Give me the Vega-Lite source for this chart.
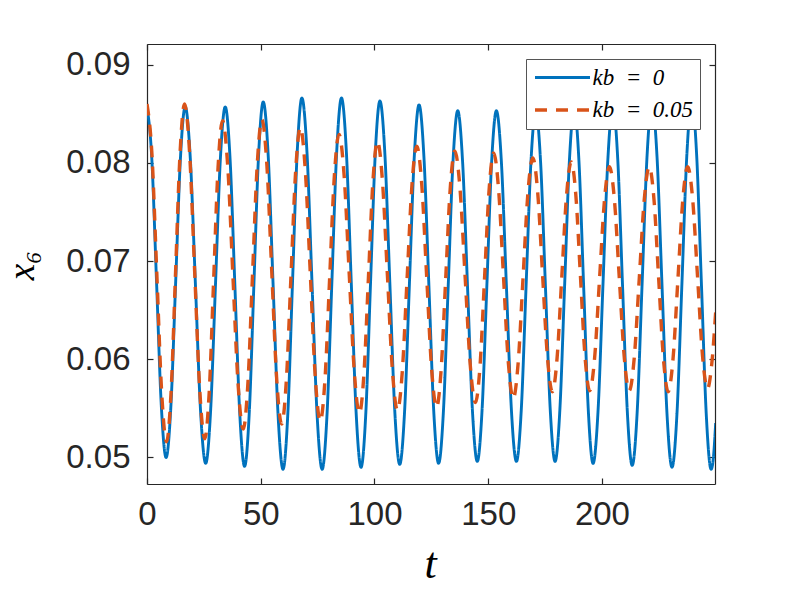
{
"$schema": "https://vega.github.io/schema/vega-lite/v6.json",
"width": 568, "height": 440,
"autosize": {"type": "none"},
"padding": {"left": 147, "top": 44, "right": 74, "bottom": 108},
"background": "white",
"data": {"values": [
{"t":0,"s":"kb = 0","v":0.0857},{"t":2.1,"s":"kb = 0","v":0.08047},{"t":4.2,"s":"kb = 0","v":0.06785},{"t":6.3,"s":"kb = 0","v":0.05523},{"t":8.4,"s":"kb = 0","v":0.05},{"t":10.5,"s":"kb = 0","v":0.05523},{"t":12.6,"s":"kb = 0","v":0.06785},{"t":14.7,"s":"kb = 0","v":0.08047},{"t":16.8,"s":"kb = 0","v":0.0857},{"t":19.05,"s":"kb = 0","v":0.08039},{"t":21.3,"s":"kb = 0","v":0.06755},{"t":23.55,"s":"kb = 0","v":0.05471},{"t":25.8,"s":"kb = 0","v":0.0494},{"t":27.95,"s":"kb = 0","v":0.05471},{"t":30.1,"s":"kb = 0","v":0.06755},{"t":32.25,"s":"kb = 0","v":0.08039},{"t":34.4,"s":"kb = 0","v":0.0857},{"t":36.53,"s":"kb = 0","v":0.08034},{"t":38.65,"s":"kb = 0","v":0.0674},{"t":40.78,"s":"kb = 0","v":0.05446},{"t":42.9,"s":"kb = 0","v":0.0491},{"t":44.95,"s":"kb = 0","v":0.05453},{"t":47.0,"s":"kb = 0","v":0.06765},{"t":49.05,"s":"kb = 0","v":0.08077},{"t":51.1,"s":"kb = 0","v":0.0862},{"t":53.28,"s":"kb = 0","v":0.08073},{"t":55.45,"s":"kb = 0","v":0.0675},{"t":57.63,"s":"kb = 0","v":0.05428},{"t":59.8,"s":"kb = 0","v":0.0488},{"t":61.88,"s":"kb = 0","v":0.05433},{"t":63.95,"s":"kb = 0","v":0.0677},{"t":66.03,"s":"kb = 0","v":0.08107},{"t":68.1,"s":"kb = 0","v":0.0866},{"t":70.33,"s":"kb = 0","v":0.08107},{"t":72.55,"s":"kb = 0","v":0.0677},{"t":74.78,"s":"kb = 0","v":0.05433},{"t":77.0,"s":"kb = 0","v":0.0488},{"t":79.13,"s":"kb = 0","v":0.05433},{"t":81.25,"s":"kb = 0","v":0.0677},{"t":83.38,"s":"kb = 0","v":0.08107},{"t":85.5,"s":"kb = 0","v":0.0866},{"t":87.65,"s":"kb = 0","v":0.0811},{"t":89.8,"s":"kb = 0","v":0.0678},{"t":91.95,"s":"kb = 0","v":0.05451},{"t":94.1,"s":"kb = 0","v":0.049},{"t":96.18,"s":"kb = 0","v":0.05446},{"t":98.25,"s":"kb = 0","v":0.06765},{"t":100.33,"s":"kb = 0","v":0.08084},{"t":102.4,"s":"kb = 0","v":0.0863},{"t":104.58,"s":"kb = 0","v":0.08088},{"t":106.75,"s":"kb = 0","v":0.0678},{"t":108.93,"s":"kb = 0","v":0.05472},{"t":111.1,"s":"kb = 0","v":0.0493},{"t":113.23,"s":"kb = 0","v":0.05466},{"t":115.35,"s":"kb = 0","v":0.0676},{"t":117.48,"s":"kb = 0","v":0.08054},{"t":119.6,"s":"kb = 0","v":0.0859},{"t":121.75,"s":"kb = 0","v":0.08056},{"t":123.9,"s":"kb = 0","v":0.06765},{"t":126.05,"s":"kb = 0","v":0.05474},{"t":128.2,"s":"kb = 0","v":0.0494},{"t":130.3,"s":"kb = 0","v":0.05466},{"t":132.4,"s":"kb = 0","v":0.06735},{"t":134.5,"s":"kb = 0","v":0.08004},{"t":136.6,"s":"kb = 0","v":0.0853},{"t":138.75,"s":"kb = 0","v":0.08007},{"t":140.9,"s":"kb = 0","v":0.06745},{"t":143.05,"s":"kb = 0","v":0.05483},{"t":145.2,"s":"kb = 0","v":0.0496},{"t":147.3,"s":"kb = 0","v":0.05483},{"t":149.4,"s":"kb = 0","v":0.06745},{"t":151.5,"s":"kb = 0","v":0.08007},{"t":153.6,"s":"kb = 0","v":0.0853},{"t":155.8,"s":"kb = 0","v":0.08007},{"t":158.0,"s":"kb = 0","v":0.06745},{"t":160.2,"s":"kb = 0","v":0.05483},{"t":162.4,"s":"kb = 0","v":0.0496},{"t":164.53,"s":"kb = 0","v":0.05483},{"t":166.65,"s":"kb = 0","v":0.06745},{"t":168.78,"s":"kb = 0","v":0.08007},{"t":170.9,"s":"kb = 0","v":0.0853},{"t":173.03,"s":"kb = 0","v":0.08007},{"t":175.15,"s":"kb = 0","v":0.06745},{"t":177.28,"s":"kb = 0","v":0.05483},{"t":179.4,"s":"kb = 0","v":0.0496},{"t":181.5,"s":"kb = 0","v":0.05486},{"t":183.6,"s":"kb = 0","v":0.06755},{"t":185.7,"s":"kb = 0","v":0.08024},{"t":187.8,"s":"kb = 0","v":0.0855},{"t":189.88,"s":"kb = 0","v":0.08022},{"t":191.95,"s":"kb = 0","v":0.06745},{"t":194.03,"s":"kb = 0","v":0.05469},{"t":196.1,"s":"kb = 0","v":0.0494},{"t":198.28,"s":"kb = 0","v":0.05473},{"t":200.45,"s":"kb = 0","v":0.0676},{"t":202.63,"s":"kb = 0","v":0.08047},{"t":204.8,"s":"kb = 0","v":0.0858},{"t":206.93,"s":"kb = 0","v":0.08044},{"t":209.05,"s":"kb = 0","v":0.0675},{"t":211.18,"s":"kb = 0","v":0.05456},{"t":213.3,"s":"kb = 0","v":0.0492},{"t":215.48,"s":"kb = 0","v":0.0546},{"t":217.65,"s":"kb = 0","v":0.06765},{"t":219.83,"s":"kb = 0","v":0.0807},{"t":222.0,"s":"kb = 0","v":0.0861},{"t":224.2,"s":"kb = 0","v":0.08067},{"t":226.4,"s":"kb = 0","v":0.06755},{"t":228.6,"s":"kb = 0","v":0.05443},{"t":230.8,"s":"kb = 0","v":0.049},{"t":232.98,"s":"kb = 0","v":0.05446},{"t":235.15,"s":"kb = 0","v":0.06765},{"t":237.33,"s":"kb = 0","v":0.08084},{"t":239.5,"s":"kb = 0","v":0.0863},{"t":241.63,"s":"kb = 0","v":0.08081},{"t":243.75,"s":"kb = 0","v":0.06755},{"t":245.88,"s":"kb = 0","v":0.05429},{"t":248.0,"s":"kb = 0","v":0.0488},{"t":249,"s":"kb = 0","v":0.05},{"t":250,"s":"kb = 0","v":0.0535},
{"t":0,"s":"kb = 0.05","v":0.086},{"t":2.15,"s":"kb = 0.05","v":0.08096},{"t":4.3,"s":"kb = 0.05","v":0.0688},{"t":6.45,"s":"kb = 0.05","v":0.05664},{"t":8.6,"s":"kb = 0.05","v":0.0516},{"t":10.58,"s":"kb = 0.05","v":0.05664},{"t":12.55,"s":"kb = 0.05","v":0.0688},{"t":14.53,"s":"kb = 0.05","v":0.08096},{"t":16.5,"s":"kb = 0.05","v":0.086},{"t":18.73,"s":"kb = 0.05","v":0.08101},{"t":20.95,"s":"kb = 0.05","v":0.06895},{"t":23.18,"s":"kb = 0.05","v":0.05689},{"t":25.4,"s":"kb = 0.05","v":0.0519},{"t":27.35,"s":"kb = 0.05","v":0.05664},{"t":29.3,"s":"kb = 0.05","v":0.0681},{"t":31.25,"s":"kb = 0.05","v":0.07956},{"t":33.2,"s":"kb = 0.05","v":0.0843},{"t":35.48,"s":"kb = 0.05","v":0.0797},{"t":37.75,"s":"kb = 0.05","v":0.0686},{"t":40.03,"s":"kb = 0.05","v":0.0575},{"t":42.3,"s":"kb = 0.05","v":0.0529},{"t":44.35,"s":"kb = 0.05","v":0.05751},{"t":46.4,"s":"kb = 0.05","v":0.06865},{"t":48.45,"s":"kb = 0.05","v":0.07979},{"t":50.5,"s":"kb = 0.05","v":0.0844},{"t":52.68,"s":"kb = 0.05","v":0.07986},{"t":54.85,"s":"kb = 0.05","v":0.0689},{"t":57.03,"s":"kb = 0.05","v":0.05794},{"t":59.2,"s":"kb = 0.05","v":0.0534},{"t":61.25,"s":"kb = 0.05","v":0.05782},{"t":63.3,"s":"kb = 0.05","v":0.0685},{"t":65.35,"s":"kb = 0.05","v":0.07918},{"t":67.4,"s":"kb = 0.05","v":0.0836},{"t":69.6,"s":"kb = 0.05","v":0.07922},{"t":71.8,"s":"kb = 0.05","v":0.06865},{"t":74.0,"s":"kb = 0.05","v":0.05808},{"t":76.2,"s":"kb = 0.05","v":0.0537},{"t":78.25,"s":"kb = 0.05","v":0.05798},{"t":80.3,"s":"kb = 0.05","v":0.0683},{"t":82.35,"s":"kb = 0.05","v":0.07863},{"t":84.4,"s":"kb = 0.05","v":0.0829},{"t":86.65,"s":"kb = 0.05","v":0.07874},{"t":88.9,"s":"kb = 0.05","v":0.0687},{"t":91.15,"s":"kb = 0.05","v":0.05866},{"t":93.4,"s":"kb = 0.05","v":0.0545},{"t":95.38,"s":"kb = 0.05","v":0.05856},{"t":97.35,"s":"kb = 0.05","v":0.06835},{"t":99.33,"s":"kb = 0.05","v":0.07815},{"t":101.3,"s":"kb = 0.05","v":0.0822},{"t":103.5,"s":"kb = 0.05","v":0.07819},{"t":105.7,"s":"kb = 0.05","v":0.0685},{"t":107.9,"s":"kb = 0.05","v":0.05881},{"t":110.1,"s":"kb = 0.05","v":0.0548},{"t":112.23,"s":"kb = 0.05","v":0.05874},{"t":114.35,"s":"kb = 0.05","v":0.06825},{"t":116.48,"s":"kb = 0.05","v":0.07776},{"t":118.6,"s":"kb = 0.05","v":0.0817},{"t":120.78,"s":"kb = 0.05","v":0.07781},{"t":122.95,"s":"kb = 0.05","v":0.0684},{"t":125.13,"s":"kb = 0.05","v":0.05899},{"t":127.3,"s":"kb = 0.05","v":0.0551},{"t":129.3,"s":"kb = 0.05","v":0.05892},{"t":131.3,"s":"kb = 0.05","v":0.06815},{"t":133.3,"s":"kb = 0.05","v":0.07738},{"t":135.3,"s":"kb = 0.05","v":0.0812},{"t":137.58,"s":"kb = 0.05","v":0.07745},{"t":139.85,"s":"kb = 0.05","v":0.0684},{"t":142.13,"s":"kb = 0.05","v":0.05935},{"t":144.4,"s":"kb = 0.05","v":0.0556},{"t":146.4,"s":"kb = 0.05","v":0.05932},{"t":148.4,"s":"kb = 0.05","v":0.0683},{"t":150.4,"s":"kb = 0.05","v":0.07728},{"t":152.4,"s":"kb = 0.05","v":0.081},{"t":154.55,"s":"kb = 0.05","v":0.07734},{"t":156.7,"s":"kb = 0.05","v":0.0685},{"t":158.85,"s":"kb = 0.05","v":0.05966},{"t":161.0,"s":"kb = 0.05","v":0.056},{"t":163.15,"s":"kb = 0.05","v":0.05959},{"t":165.3,"s":"kb = 0.05","v":0.06825},{"t":167.45,"s":"kb = 0.05","v":0.07691},{"t":169.6,"s":"kb = 0.05","v":0.0805},{"t":171.75,"s":"kb = 0.05","v":0.07702},{"t":173.9,"s":"kb = 0.05","v":0.0686},{"t":176.05,"s":"kb = 0.05","v":0.06018},{"t":178.2,"s":"kb = 0.05","v":0.0567},{"t":180.28,"s":"kb = 0.05","v":0.06013},{"t":182.35,"s":"kb = 0.05","v":0.0684},{"t":184.43,"s":"kb = 0.05","v":0.07667},{"t":186.5,"s":"kb = 0.05","v":0.0801},{"t":188.53,"s":"kb = 0.05","v":0.07669},{"t":190.55,"s":"kb = 0.05","v":0.06845},{"t":192.58,"s":"kb = 0.05","v":0.06021},{"t":194.6,"s":"kb = 0.05","v":0.0568},{"t":196.78,"s":"kb = 0.05","v":0.06014},{"t":198.95,"s":"kb = 0.05","v":0.0682},{"t":201.13,"s":"kb = 0.05","v":0.07626},{"t":203.3,"s":"kb = 0.05","v":0.0796},{"t":205.48,"s":"kb = 0.05","v":0.07626},{"t":207.65,"s":"kb = 0.05","v":0.0682},{"t":209.83,"s":"kb = 0.05","v":0.06014},{"t":212.0,"s":"kb = 0.05","v":0.0568},{"t":214.2,"s":"kb = 0.05","v":0.06014},{"t":216.4,"s":"kb = 0.05","v":0.0682},{"t":218.6,"s":"kb = 0.05","v":0.07626},{"t":220.8,"s":"kb = 0.05","v":0.0796},{"t":222.88,"s":"kb = 0.05","v":0.07625},{"t":224.95,"s":"kb = 0.05","v":0.06815},{"t":227.03,"s":"kb = 0.05","v":0.06005},{"t":229.1,"s":"kb = 0.05","v":0.0567},{"t":231.25,"s":"kb = 0.05","v":0.06005},{"t":233.4,"s":"kb = 0.05","v":0.06815},{"t":235.55,"s":"kb = 0.05","v":0.07625},{"t":237.7,"s":"kb = 0.05","v":0.0796},{"t":239.88,"s":"kb = 0.05","v":0.07629},{"t":242.05,"s":"kb = 0.05","v":0.0683},{"t":244.23,"s":"kb = 0.05","v":0.06031},{"t":246.4,"s":"kb = 0.05","v":0.057},{"t":248.2,"s":"kb = 0.05","v":0.05935},{"t":250,"s":"kb = 0.05","v":0.0648}
]},
"layer": [
{
"mark": {"type": "line", "clip": true, "interpolate": "monotone"},
"encoding": {
"x": {"field": "t", "type": "quantitative",
 "scale": {"domain": [0, 249.7], "nice": false, "zero": false},
 "axis": {"orient": "bottom", "values": [0, 50, 100, 150, 200], "labelPadding": 20, "labelFlush": false, "labelOverlap": false,
  "title": "t", "titleX": 283, "titleY": 93, "titleBaseline": "alphabetic", "titleAlign": "center", "titleAngle": 0}},
"y": {"field": "v", "type": "quantitative",
 "scale": {"domain": [0.0473, 0.0921], "nice": false, "zero": false},
 "axis": {"orient": "left", "values": [0.05, 0.06, 0.07, 0.08, 0.09], "format": ".2f", "labelPadding": 23, "labelFlush": false, "labelOverlap": false,
  "title": "x₆", "titleX": -114, "titleY": 221, "titleAngle": -90, "titleBaseline": "alphabetic", "titleAlign": "center", "titleFontSize": 37}},
"color": {"field": "s", "type": "nominal", "scale": {"domain": ["kb = 0", "kb = 0.05"], "range": ["#0072BD", "#D95319"]},
 "legend": {"title": null, "labelExpr": "datum.label == 'kb = 0' ? 'kb\u2002=\u20020' : 'kb\u2002=\u20020.05'"}},
"strokeDash": {"field": "s", "type": "nominal", "scale": {"domain": ["kb = 0", "kb = 0.05"], "range": [[1, 0], [12, 9]]},
 "legend": {"title": null, "labelExpr": "datum.label == 'kb = 0' ? 'kb\u2002=\u20020' : 'kb\u2002=\u20020.05'"}},
"strokeWidth": {"field": "s", "type": "nominal", "scale": {"domain": ["kb = 0", "kb = 0.05"], "range": [2.9, 3.4]}, "legend": null}
}
},
{
"mark": {"type": "line", "strokeOpacity": 0, "clip": true},
"encoding": {
"x": {"field": "t", "type": "quantitative", "axis": {"orient": "top", "values": [0, 50, 100, 150, 200], "labels": false, "title": null}},
"y": {"field": "v", "type": "quantitative", "axis": {"orient": "right", "values": [0.05, 0.06, 0.07, 0.08, 0.09], "labels": false, "title": null}},
"detail": {"field": "s"}
}
}
],
"config": {
"view": {"stroke": null},
"axis": {"domainColor": "#262626", "domainWidth": 1.2, "tickColor": "#262626", "tickWidth": 1.2, "tickSize": -6, "grid": false,
 "labelFont": "Liberation Sans", "labelFontSize": 33, "labelColor": "#262626",
 "titleFont": "Liberation Serif", "titleFontStyle": "italic", "titleFontWeight": "normal", "titleFontSize": 44, "titleColor": "#000000"},
"legend": {"orient": "top-right", "offset": 15, "fillColor": "white", "strokeColor": "#555555", "padding": 7,
 "symbolType": "M-2.75,0H2.75", "symbolSize": 400, "symbolStrokeWidth": 3, "symbolOffset": 17.5,
 "labelFont": "Liberation Serif", "labelFontStyle": "italic", "labelFontSize": 23, "labelColor": "#000000", "labelOffset": 18, "rowPadding": 8, "labelLimit": 300}
}
}
